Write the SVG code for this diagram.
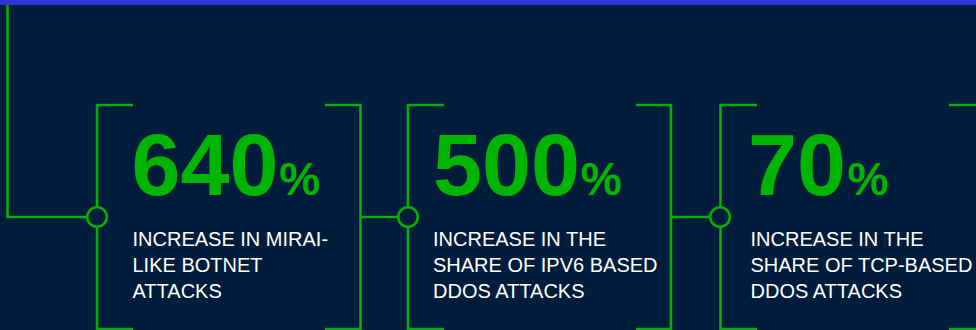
<svg xmlns="http://www.w3.org/2000/svg" width="976" height="330" viewBox="0 0 976 330">
<style>
.ln{fill:none;stroke:#02b002;stroke-width:2.6}
.dot{fill:#011d3b;stroke:#02b002;stroke-width:2.6}
.num{font-family:"Liberation Sans",Arial,sans-serif;font-weight:bold;fill:#00b400;font-size:88px}
.pct{font-size:46px}
.desc{font-family:"Liberation Sans",Arial,sans-serif;fill:#ffffff;font-size:20px}
</style>
<rect width="976" height="330" fill="#011d3b"/>
<rect width="976" height="5" fill="#2d35d9"/>
<g id="connectors">
<path class="ln" d="M7.5 5 V217 H87"/>
<path class="ln" d="M360.5 217 H398"/>
<path class="ln" d="M671 217 H710"/>
</g>
<g id="stat1">
<path class="ln" d="M133 105 H97 V329 H133 M325 105 H360.5 V329 H325"/>
<circle class="dot" cx="97" cy="217" r="9.8"/>
<text class="num" x="131.5" y="195">640<tspan class="pct" dx="1">%</tspan></text>
<text class="desc" x="132.5"><tspan x="132.5" y="246">INCREASE IN MIRAI-</tspan><tspan x="132.5" y="272">LIKE BOTNET</tspan><tspan x="132.5" y="298">ATTACKS</tspan></text>
</g>
<g id="stat2">
<path class="ln" d="M444 105 H408 V329 H444 M636 105 H671 V329 H636"/>
<circle class="dot" cx="408" cy="217" r="9.8"/>
<text class="num" x="433" y="195">500<tspan class="pct" dx="1">%</tspan></text>
<text class="desc"><tspan x="433" y="246">INCREASE IN THE</tspan><tspan x="433" y="272">SHARE OF IPV6 BASED</tspan><tspan x="433" y="298">DDOS ATTACKS</tspan></text>
</g>
<g id="stat3">
<path class="ln" d="M757 105 H720.5 V329 H757 M949 105 H984 V329 H949"/>
<circle class="dot" cx="720" cy="217" r="9.8"/>
<text class="num" x="748" y="195">70<tspan class="pct" dx="1.5">%</tspan></text>
<text class="desc"><tspan x="750.5" y="246">INCREASE IN THE</tspan><tspan x="750.5" y="272">SHARE OF TCP-BASED</tspan><tspan x="750.5" y="298">DDOS ATTACKS</tspan></text>
</g>
</svg>
